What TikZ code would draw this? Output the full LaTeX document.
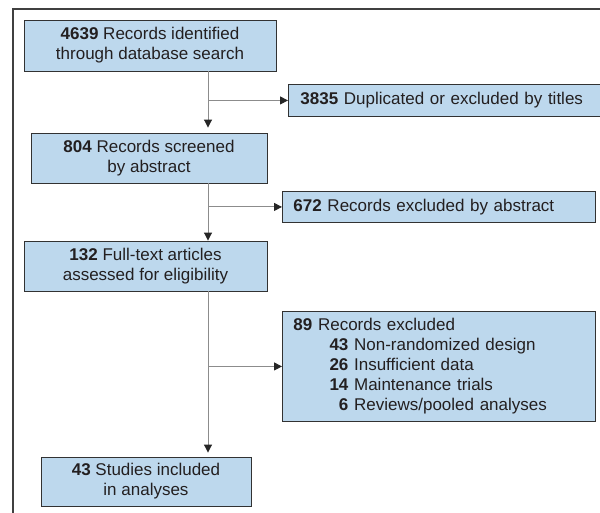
\documentclass[tikz,border=0pt]{standalone}
\usepackage{fontspec}
\setmainfont{Liberation Sans}
\usetikzlibrary{arrows.meta}
\definecolor{boxfill}{RGB}{189,216,237}
\definecolor{boxline}{RGB}{50,50,50}
\definecolor{txt}{RGB}{35,31,32}
\definecolor{connline}{RGB}{140,140,140}
\tikzset{
  every node/.style={font=\fontsize{17}{20}\selectfont, text=txt},
  mainbox/.style={draw=boxline, fill=boxfill, line width=0.9pt, align=center, inner sep=0pt},
  sidebox/.style={draw=boxline, fill=boxfill, line width=0.9pt, align=left, inner xsep=11pt, inner ysep=0pt, anchor=north west},
  conn/.style={draw=connline, line width=1pt, -{Triangle[length=8pt,width=8pt,color=black!85]}},
  frameline/.style={draw=black!75, line width=1.2pt}
}
\begin{document}
\begin{tikzpicture}[x=1pt,y=-1pt]
\clip (0,0) rectangle (600,513);
\useasboundingbox (0,0) rectangle (600,513);
\fill[white] (0,0) rectangle (600,513);
\draw[frameline] (13,513) -- (13,9) -- (605,9);
\coordinate (spine) at (208,0);

\node[mainbox, minimum width=252pt, minimum height=51pt] (b1) at (150,45.5)
  {\textbf{4639} Records identified\\through database search};
\node[mainbox, minimum width=236pt, minimum height=50pt] (b2) at (149,158)
  {\textbf{804} Records screened\\by abstract};
\node[mainbox, minimum width=243pt, minimum height=50pt] (b3) at (145.5,266)
  {\textbf{132} Full-text articles\\assessed for eligibility};
\node[mainbox, minimum width=210pt, minimum height=49pt] (b4) at (146,481.5)
  {\textbf{43} Studies included\\in analyses};

\node[sidebox, inner xsep=12pt, text width=306pt, minimum height=32pt] (s1) at (288,84)
  {\textbf{3835} Duplicated or excluded by titles};
\node[sidebox, text width=291pt, minimum height=31pt] (s2) at (282,191)
  {\textbf{672} Records excluded by abstract};
\node[sidebox, text width=291pt, minimum height=110pt] (s3) at (282,311)
  {\textbf{89} Records excluded\\
   \hspace*{36pt}\makebox[19pt][r]{\textbf{43}} Non-randomized design\\
   \hspace*{36pt}\makebox[19pt][r]{\textbf{26}} Insufficient data\\
   \hspace*{36pt}\makebox[19pt][r]{\textbf{14}} Maintenance trials\\
   \hspace*{36pt}\makebox[19pt][r]{\textbf{6}} Reviews/pooled analyses};

\draw[conn, shorten >=5pt] (b1.south -| spine) -- (b2.north -| spine);
\draw[conn] (spine |- s1.west) -- (s1.west);
\draw[conn] (b2.south -| spine) -- (b3.north -| spine);
\draw[conn] (spine |- s2.west) -- (s2.west);
\draw[conn, shorten >=4pt] (b3.south -| spine) -- (b4.north -| spine);
\draw[conn] (spine |- s3.west) -- (s3.west);
\end{tikzpicture}
\end{document}
